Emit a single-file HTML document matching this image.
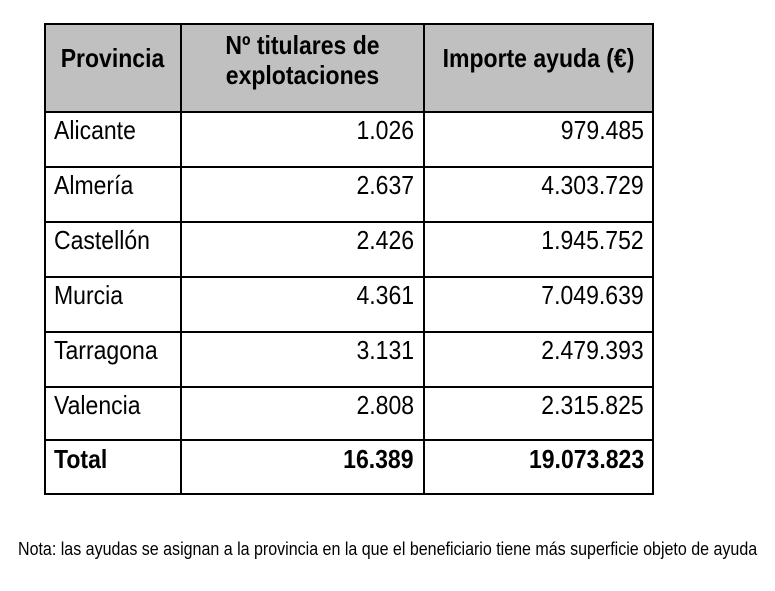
<!DOCTYPE html>
<html><head><meta charset="utf-8"><style>
body{margin:0;width:775px;height:591px;background:#fff;position:relative;overflow:hidden;font-family:"Liberation Sans",sans-serif;color:#000}
.c{position:absolute;box-sizing:border-box;font-size:26px;line-height:27px;white-space:nowrap;transform:scaleX(0.885);transform-origin:left top}
.r{transform-origin:right top}
.m{transform-origin:center top}
.h{background:#c0c0c0;transform:none}
.l{position:absolute;background:#000}
</style></head><body>
<div class="c h" style="left:44px;top:24px;width:609px;height:88px"></div>
<div class="c m" style="left:44px;top:45px;width:137px;text-align:center;font-weight:bold">Provincia</div>
<div class="c m" style="left:181px;top:30px;width:243px;text-align:center;font-weight:bold;line-height:30px">Nº titulares de<br>explotaciones</div>
<div class="c m" style="left:424px;top:45px;width:229px;text-align:center;font-weight:bold">Importe ayuda (€)</div>

<div class="c" style="left:54px;top:117px">Alicante</div><div class="c r" style="right:361px;top:117px">1.026</div><div class="c r" style="right:131px;top:117px">979.485</div>
<div class="c" style="left:54px;top:172px">Almería</div><div class="c r" style="right:361px;top:172px">2.637</div><div class="c r" style="right:131px;top:172px">4.303.729</div>
<div class="c" style="left:54px;top:227px">Castellón</div><div class="c r" style="right:361px;top:227px">2.426</div><div class="c r" style="right:131px;top:227px">1.945.752</div>
<div class="c" style="left:54px;top:282px">Murcia</div><div class="c r" style="right:361px;top:282px">4.361</div><div class="c r" style="right:131px;top:282px">7.049.639</div>
<div class="c" style="left:54px;top:337px">Tarragona</div><div class="c r" style="right:361px;top:337px">3.131</div><div class="c r" style="right:131px;top:337px">2.479.393</div>
<div class="c" style="left:54px;top:392px">Valencia</div><div class="c r" style="right:361px;top:392px">2.808</div><div class="c r" style="right:131px;top:392px">2.315.825</div>
<div class="c" style="left:54px;top:446px;font-weight:bold">Total</div><div class="c r" style="right:361px;top:446px;font-weight:bold">16.389</div><div class="c r" style="right:131px;top:446px;font-weight:bold">19.073.823</div>

<div class="l" style="left:44px;top:23px;width:610px;height:2px"></div>
<div class="l" style="left:44px;top:111px;width:610px;height:2px"></div>
<div class="l" style="left:44px;top:166px;width:610px;height:2px"></div>
<div class="l" style="left:44px;top:221px;width:610px;height:2px"></div>
<div class="l" style="left:44px;top:276px;width:610px;height:2px"></div>
<div class="l" style="left:44px;top:331px;width:610px;height:2px"></div>
<div class="l" style="left:44px;top:386px;width:610px;height:2px"></div>
<div class="l" style="left:44px;top:439px;width:610px;height:2px"></div>
<div class="l" style="left:44px;top:493px;width:610px;height:2px"></div>
<div class="l" style="left:44px;top:23px;width:2px;height:472px"></div>
<div class="l" style="left:180px;top:23px;width:2px;height:472px"></div>
<div class="l" style="left:423px;top:23px;width:2px;height:472px"></div>
<div class="l" style="left:652px;top:23px;width:2px;height:472px"></div>

<div class="c" style="left:18px;top:539px;font-size:18px;line-height:20px;transform:scaleX(0.89)">Nota: las ayudas se asignan a la provincia en la que el beneficiario tiene más superficie objeto de ayuda</div>
</body></html>
